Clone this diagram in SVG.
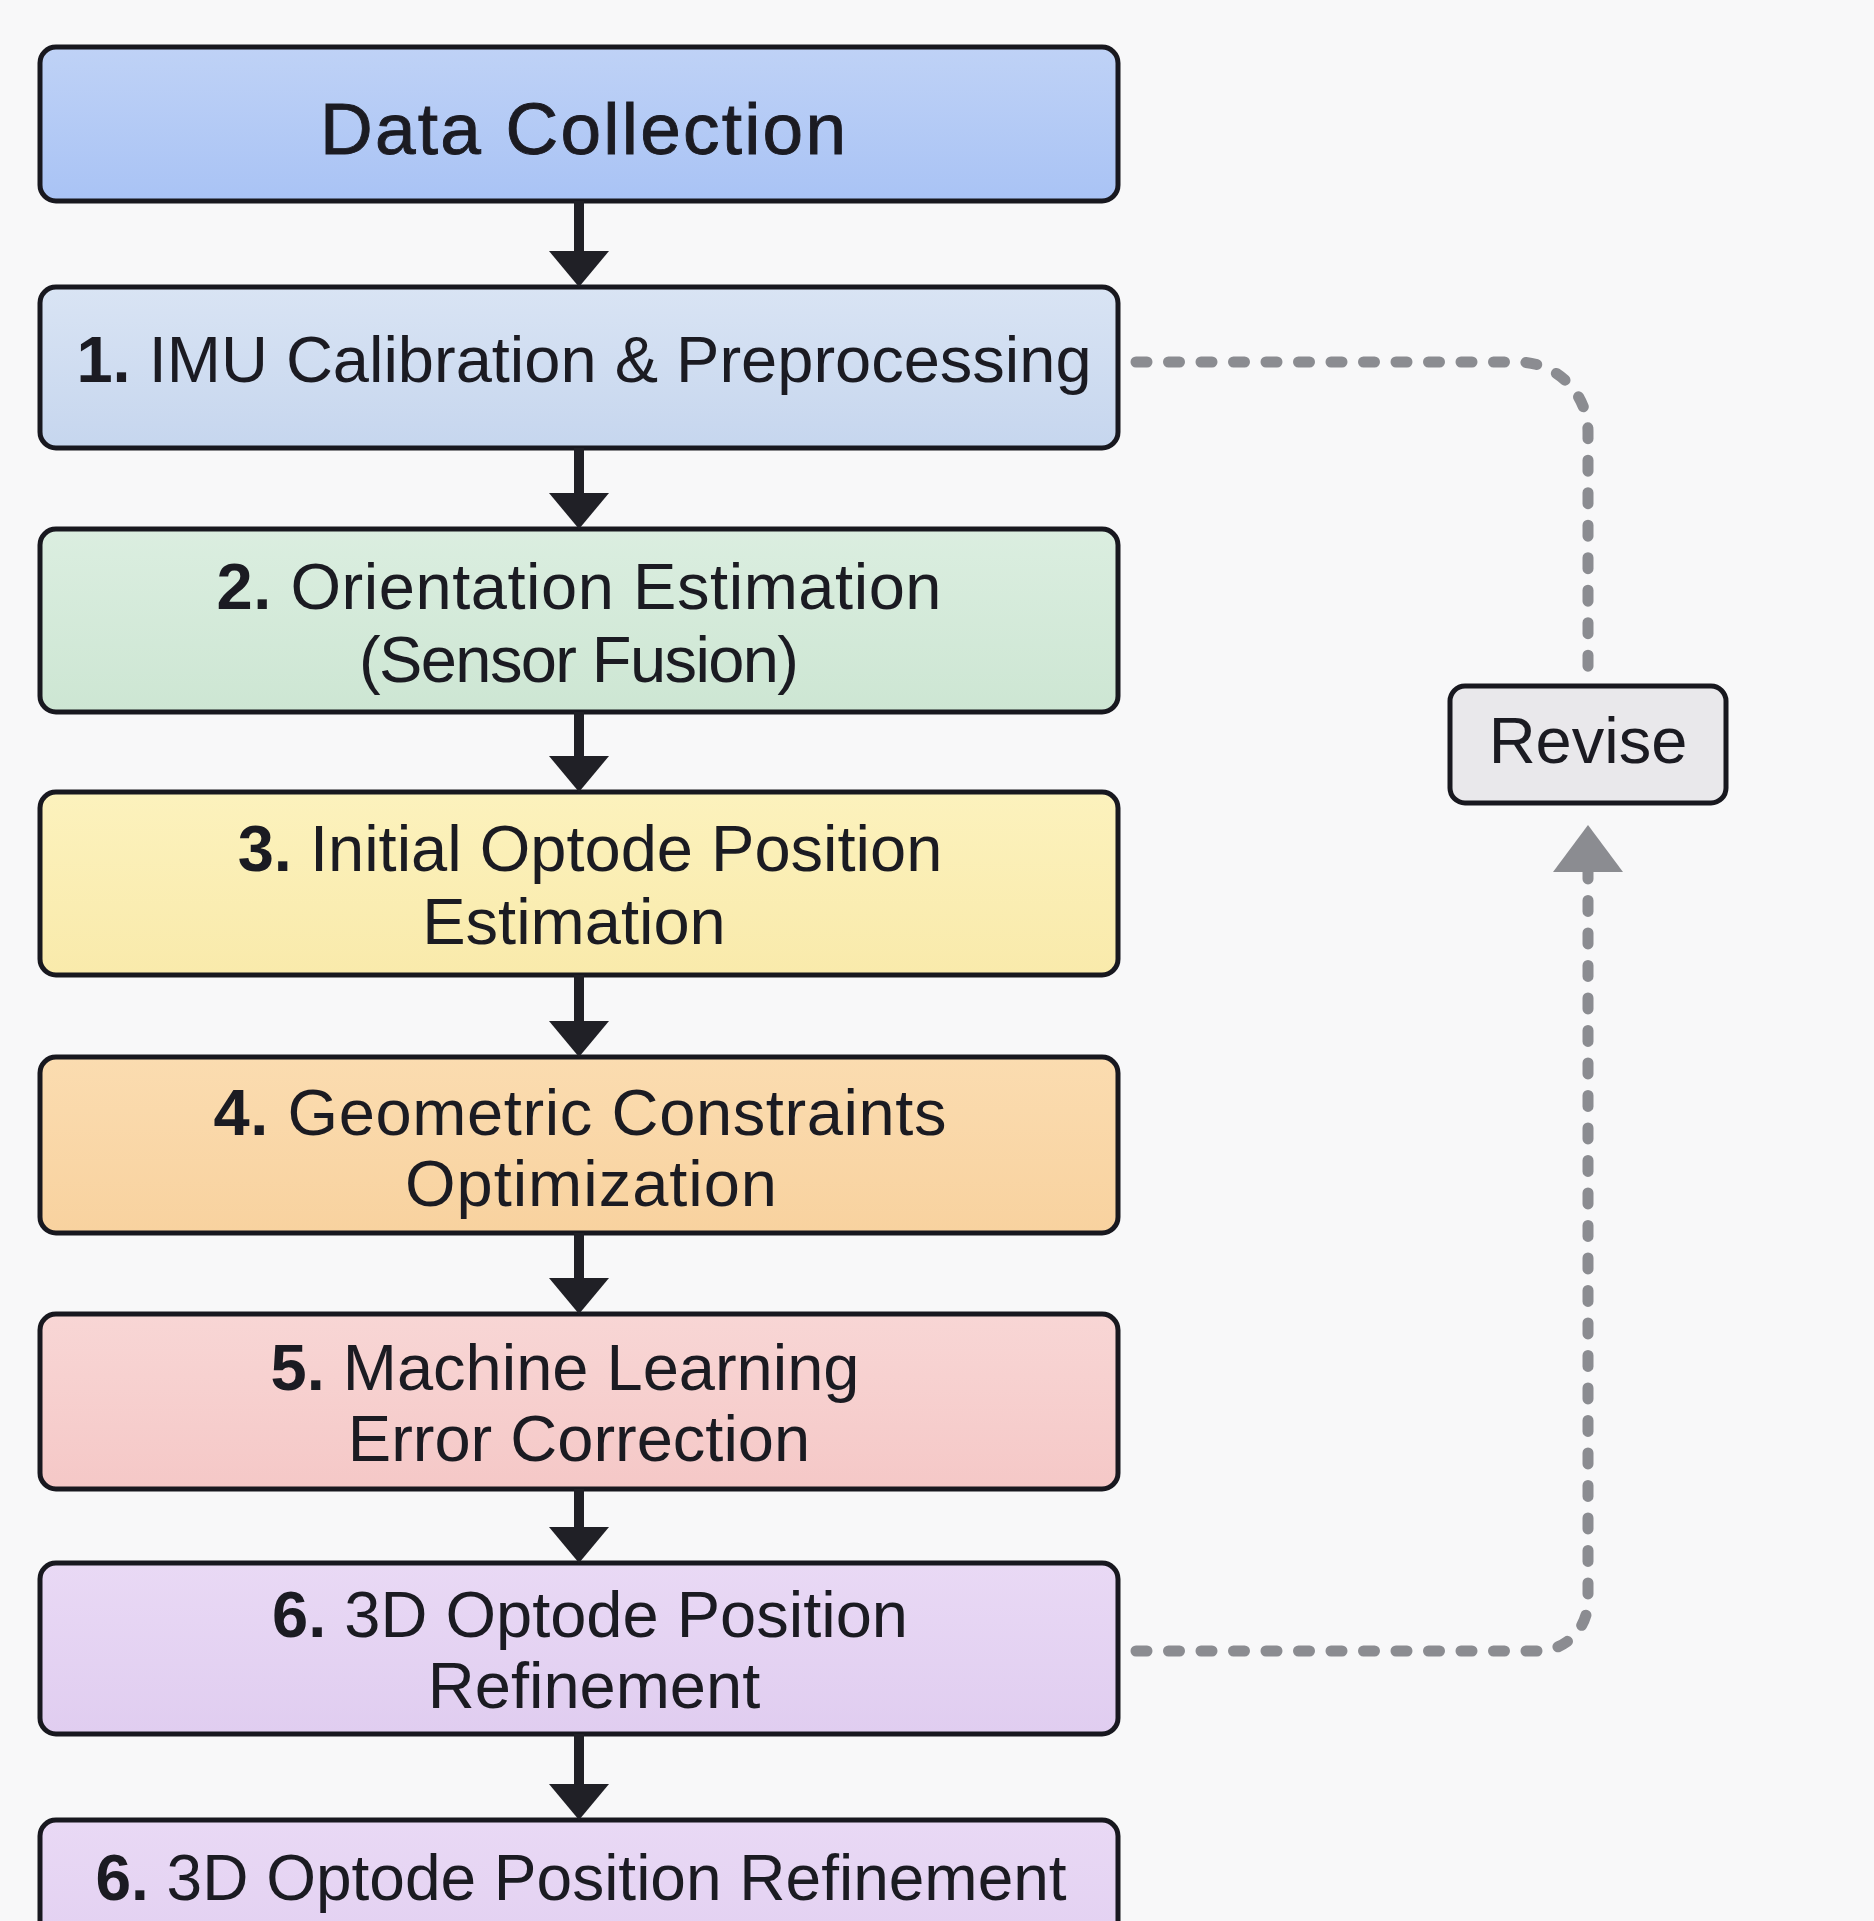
<svg xmlns="http://www.w3.org/2000/svg" width="1874" height="1921" viewBox="0 0 1874 1921">
  <defs>
    <style>
      .box { stroke: #18181f; stroke-width: 5; }
      .lbl { font-family: "Liberation Sans", Arial, sans-serif; font-size: 65px; fill: #1b1b22; text-anchor: middle; }
      .num { font-weight: bold; }
      .title { font-size: 73px; stroke: #1b1b22; stroke-width: 0.9; }
      .flow { stroke: #202026; stroke-width: 10; fill: none; }
      .loop { stroke: #8b8c91; stroke-width: 11; fill: none; stroke-linecap: round; stroke-dasharray: 11 21.5; }
    </style>
    <linearGradient id="gBlue" x1="0" y1="0" x2="0" y2="1">
      <stop offset="0" stop-color="#bfd2f6"/>
      <stop offset="1" stop-color="#a9c3f5"/>
    </linearGradient>
    <linearGradient id="gPale" x1="0" y1="0" x2="0" y2="1">
      <stop offset="0" stop-color="#d9e4f4"/>
      <stop offset="1" stop-color="#c6d6ee"/>
    </linearGradient>
    <linearGradient id="gGreen" x1="0" y1="0" x2="0" y2="1">
      <stop offset="0" stop-color="#dbeee0"/>
      <stop offset="1" stop-color="#cde6d3"/>
    </linearGradient>
    <linearGradient id="gYellow" x1="0" y1="0" x2="0" y2="1">
      <stop offset="0" stop-color="#fcf2bd"/>
      <stop offset="1" stop-color="#f9eaab"/>
    </linearGradient>
    <linearGradient id="gOrange" x1="0" y1="0" x2="0" y2="1">
      <stop offset="0" stop-color="#fbdcb0"/>
      <stop offset="1" stop-color="#f8d29f"/>
    </linearGradient>
    <linearGradient id="gPink" x1="0" y1="0" x2="0" y2="1">
      <stop offset="0" stop-color="#f8d6d5"/>
      <stop offset="1" stop-color="#f5c8c7"/>
    </linearGradient>
    <linearGradient id="gLilac" x1="0" y1="0" x2="0" y2="1">
      <stop offset="0" stop-color="#e9d9f5"/>
      <stop offset="1" stop-color="#e0cdf0"/>
    </linearGradient>
    <marker id="headDark" markerUnits="userSpaceOnUse" viewBox="0 0 36 60" markerWidth="36" markerHeight="60" refX="0" refY="30" orient="auto">
      <path d="M0,0 L36,30 L0,60 Z" fill="#202026"/>
    </marker>
    <marker id="headGray" markerUnits="userSpaceOnUse" viewBox="0 0 47 70" markerWidth="47" markerHeight="70" refX="0" refY="35" orient="auto">
      <path d="M0,0 L47,35 L0,70 Z" fill="#8b8c91"/>
    </marker>
  </defs>

  <rect x="0" y="0" width="1874" height="1921" fill="#f8f8f9"/>

  <!-- main pipeline steps -->
  <g id="data-collection">
    <rect class="box" x="40" y="47" width="1078" height="154" rx="16" fill="url(#gBlue)"/>
    <text class="lbl title" x="583" y="154" textLength="526">Data Collection</text>
  </g>
  <g id="step1">
    <rect class="box" x="40" y="287" width="1078" height="161" rx="16" fill="url(#gPale)"/>
    <text class="lbl" x="584" y="382"><tspan class="num">1.</tspan> IMU Calibration &amp; Preprocessing</text>
  </g>
  <g id="step2">
    <rect class="box" x="40" y="529" width="1078" height="183" rx="16" fill="url(#gGreen)"/>
    <text class="lbl" x="579" y="609" textLength="725"><tspan class="num">2.</tspan> Orientation Estimation</text>
    <text class="lbl" x="579" y="682" textLength="440">(Sensor Fusion)</text>
  </g>
  <g id="step3">
    <rect class="box" x="40" y="792" width="1078" height="183" rx="16" fill="url(#gYellow)"/>
    <text class="lbl" x="590" y="871"><tspan class="num">3.</tspan> Initial Optode Position</text>
    <text class="lbl" x="574" y="944">Estimation</text>
  </g>
  <g id="step4">
    <rect class="box" x="40" y="1057" width="1078" height="176" rx="16" fill="url(#gOrange)"/>
    <text class="lbl" x="580" y="1135" textLength="733"><tspan class="num">4.</tspan> Geometric Constraints</text>
    <text class="lbl" x="591" y="1206" textLength="372">Optimization</text>
  </g>
  <g id="step5">
    <rect class="box" x="40" y="1314" width="1078" height="175" rx="16" fill="url(#gPink)"/>
    <text class="lbl" x="565" y="1390"><tspan class="num">5.</tspan> Machine Learning</text>
    <text class="lbl" x="579" y="1461">Error Correction</text>
  </g>
  <g id="step6">
    <rect class="box" x="40" y="1563" width="1078" height="171" rx="16" fill="url(#gLilac)"/>
    <text class="lbl" x="590" y="1637"><tspan class="num">6.</tspan> 3D Optode Position</text>
    <text class="lbl" x="594" y="1708">Refinement</text>
  </g>
  <g id="step6-final">
    <rect class="box" x="40" y="1820" width="1078" height="180" rx="16" fill="url(#gLilac)"/>
    <text class="lbl" x="581" y="1900" style="font-size:64px"><tspan class="num">6.</tspan> 3D Optode Position Refinement</text>
  </g>

  <!-- feedback node -->
  <g id="revise">
    <rect class="box" x="1450" y="686" width="276" height="117" rx="15" fill="#e9e8eb" stroke-width="4"/>
    <text class="lbl" x="1588" y="763">Revise</text>
  </g>

  <!-- connectors -->
  <g id="connectors">
    <line class="flow" x1="579" y1="201" x2="579" y2="251" marker-end="url(#headDark)"/>
    <line class="flow" x1="579" y1="448" x2="579" y2="493" marker-end="url(#headDark)"/>
    <line class="flow" x1="579" y1="712" x2="579" y2="756" marker-end="url(#headDark)"/>
    <line class="flow" x1="579" y1="975" x2="579" y2="1021" marker-end="url(#headDark)"/>
    <line class="flow" x1="579" y1="1233" x2="579" y2="1278" marker-end="url(#headDark)"/>
    <line class="flow" x1="579" y1="1489" x2="579" y2="1527" marker-end="url(#headDark)"/>
    <line class="flow" x1="579" y1="1734" x2="579" y2="1784" marker-end="url(#headDark)"/>

    <path class="loop" d="M1136,362 H1518 A70,70 0 0 1 1588,432 V672"/>
    <path class="loop" d="M1136,1651 H1538 A50,50 0 0 0 1588,1601 V872" marker-end="url(#headGray)"/>
  </g>
</svg>
